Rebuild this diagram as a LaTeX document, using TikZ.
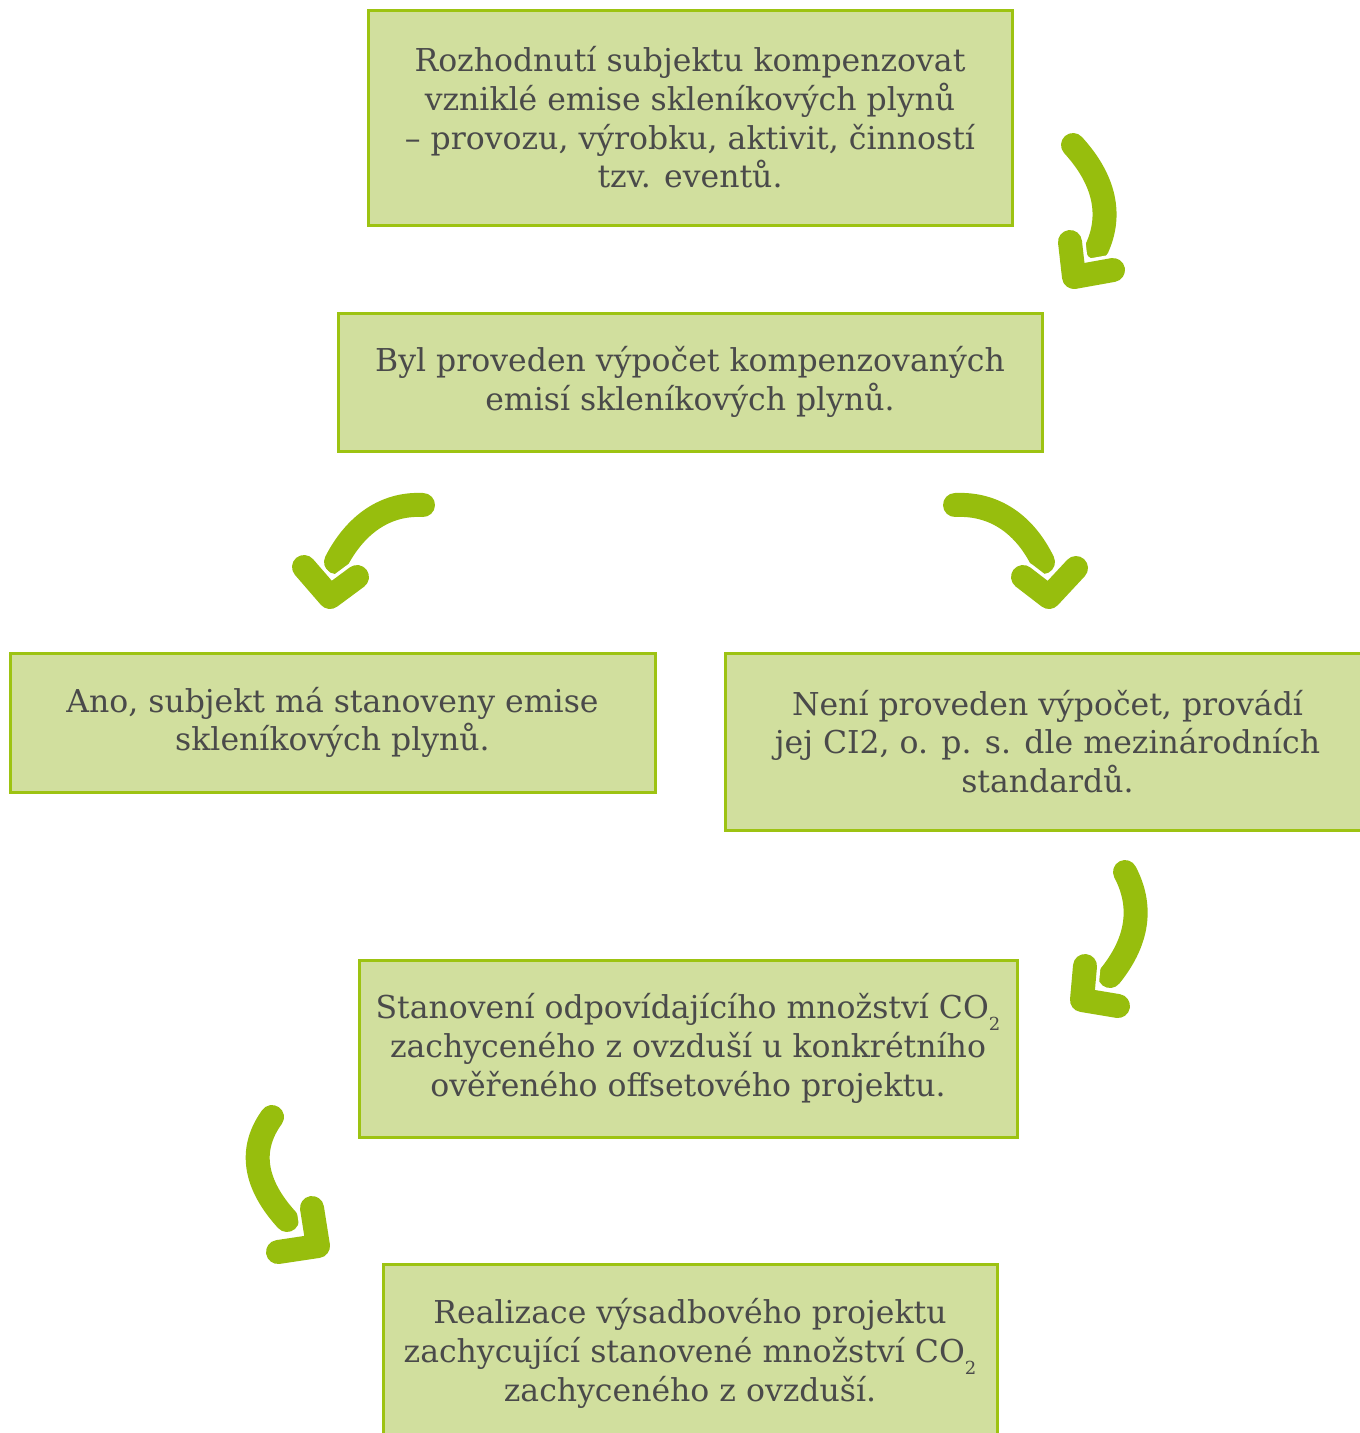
\documentclass[tikz,border=0pt]{standalone}
\usepackage{fontspec}
\setmainfont{DejaVu Serif}
\usetikzlibrary{positioning}
\definecolor{boxfill}{RGB}{209,223,158}
\definecolor{boxline}{RGB}{157,195,18}
\definecolor{arrowgreen}{RGB}{151,190,13}
\definecolor{textgray}{RGB}{74,74,74}

\newcommand{\lowsub}[1]{\raisebox{-12pt}{\fontsize{18}{18}\selectfont #1}}

\tikzset{
  stepbox/.style={draw=boxline, line width=3pt, fill=boxfill, text=textgray,
    align=center, inner sep=0pt, font=\fontsize{31.5}{38.7}\selectfont},
  shaft/.style={draw=arrowgreen, line width=24pt, line cap=round},
  headgap/.style={draw=white, line width=31pt, line cap=round, line join=round},
  head/.style={draw=arrowgreen, line width=24pt, line cap=round, line join=round}
}

\begin{document}
\begin{tikzpicture}[x=1pt, y=-1pt]
\useasboundingbox (0,0) rectangle (1360,1433);

% boxes
\node[stepbox, minimum width=644pt, minimum height=215pt] (decide) at (690,117.5)
  {Rozhodnutí subjektu kompenzovat\\vzniklé emise skleníkových plynů\\– provozu, výrobku, aktivit, činností\\tzv. eventů.};
\node[stepbox, minimum width=704pt, minimum height=138pt] (calc) at (690,382)
  {Byl proveden výpočet kompenzovaných\\emisí skleníkových plynů.};
\node[stepbox, minimum width=645pt, minimum height=139pt] (yes) at (332.5,722.5)
  {Ano, subjekt má stanoveny emise\\skleníkových plynů.};
\node[stepbox, minimum width=645pt, minimum height=177pt] (no) at (1047.5,741.5)
  {Není proveden výpočet, provádí\\jej CI2, o. p. s. dle mezinárodních\\standardů.};
\node[stepbox, minimum width=658pt, minimum height=177pt] (amount) at (688,1048.5)
  {Stanovení odpovídajícího množství CO\lowsub{2}\\zachyceného z ovzduší u konkrétního\\ověřeného offsetového projektu.};
\node[stepbox, minimum width=614pt, minimum height=179pt] (plant) at (690,1353.5)
  {Realizace výsadbového projektu\\zachycující stanovené množství CO\lowsub{2}\\zachyceného z ovzduší.};

% arrow points
\coordinate (s1) at (1073,145);  \coordinate (e1) at (1097,248);
\coordinate (s2) at (423,505);   \coordinate (e2) at (336,562);
\coordinate (s3) at (955,505);   \coordinate (e3) at (1043,562);
\coordinate (s4) at (1125,872);  \coordinate (e4) at (1110,976);
\coordinate (s5) at (272,1117);  \coordinate (e5) at (287,1220);

% shafts
\draw[shaft] (s1) .. controls (1105,180) and (1112,215) .. (e1);
\draw[shaft] (s2) .. controls (385,503) and (355,525) .. (e2);
\draw[shaft] (s3) .. controls (995,503) and (1025,525) .. (e3);
\draw[shaft] (s4) .. controls (1145,910) and (1135,945) .. (e4);
\draw[shaft] (s5) .. controls (248,1150) and (255,1185) .. (e5);

% heads
\foreach \a/\b/\c in {{(1070,242)}/{(1074,277)}/{(1113,270)},
                      {(304,567)}/{(330,597)}/{(357,577)},
                      {(1023,577)}/{(1049,597)}/{(1076,568)},
                      {(1085,966)}/{(1082,1000)}/{(1118,1006)},
                      {(312,1208)}/{(318,1246)}/{(278,1252)}}{
  \draw[headgap] \a -- \b -- \c;
  \draw[head] \a -- \b -- \c;
}
\end{tikzpicture}
\end{document}
